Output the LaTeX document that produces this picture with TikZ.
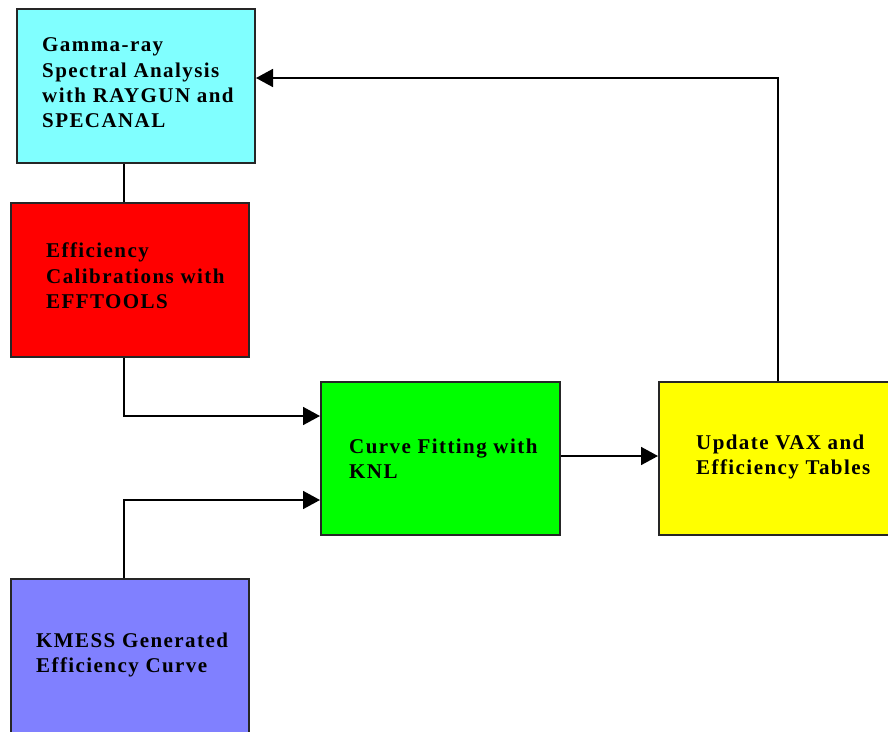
\documentclass[tikz,border=0pt]{standalone}
\usepackage{fontspec}
\setmainfont{Liberation Serif}[LetterSpace=6.8]
\usetikzlibrary{arrows.meta}
\definecolor{cyanbox}{HTML}{80FFFF}
\definecolor{redbox}{HTML}{FF0000}
\definecolor{greenbox}{HTML}{00FF00}
\definecolor{yellowbox}{HTML}{FFFF00}
\definecolor{bluebox}{HTML}{8080FF}
\begin{document}
\begin{tikzpicture}[x=1pt,y=1pt,
  box/.style={draw=black!85,line width=2pt,rectangle,inner sep=0pt,anchor=north west},
  lbl/.style={anchor=west,align=left,inner sep=0pt,font=\bfseries\fontsize{21}{25.3}\selectfont},
  conn/.style={draw=black,line width=1.7pt},
  arr/.style={conn,-{Triangle[length=17pt,width=18pt]}}]
\useasboundingbox (0,0) rectangle (888,-731);
\clip (0,0) rectangle (888,-731);
\node[box,fill=cyanbox,minimum width=238pt,minimum height=154pt] (gamma) at (16,-8) {};
\node[box,fill=redbox,minimum width=238pt,minimum height=154pt] (eff) at (10,-202) {};
\node[box,fill=greenbox,minimum width=239pt,minimum height=153pt] (knl) at (320,-381) {};
\node[box,fill=yellowbox,minimum width=240pt,minimum height=153pt] (vax) at (658,-381) {};
\node[box,fill=bluebox,minimum width=238pt,minimum height=170pt] (kmess) at (10,-578) {};
\node[lbl] (tgamma) at (42,-82.9) {Gamma-ray\\Spectral Analysis\\with RAYGUN and\\SPECANAL};
\node[lbl] (teff) at (46,-275.9) {Efficiency\\Calibrations with\\EFFTOOLS};
\node[lbl] (tknl) at (349,-458.9) {Curve Fitting with\\KNL};
\node[lbl] (tvax) at (696,-457.2) {Update VAX and\\Efficiency Tables};
\node[lbl] (tkmess) at (36,-655.2) {KMESS Generated\\Efficiency Curve};
\coordinate (c1) at (124,-416);
\coordinate (c2) at (124,-500);
\coordinate (c3) at (778,-78);
\draw[conn] (gamma.south -| c1) -- (eff.north -| c1);
\draw[arr] (eff.south -| c1) -- (c1) -- (c1 -| knl.west);
\draw[arr] (kmess.north -| c2) -- (c2) -- (c2 -| knl.west);
\draw[arr] (knl.east |- 0,-456) -- (vax.west |- 0,-456);
\draw[arr] (vax.north -| c3) -- (c3) -- (c3 -| gamma.east);
\end{tikzpicture}
\end{document}
